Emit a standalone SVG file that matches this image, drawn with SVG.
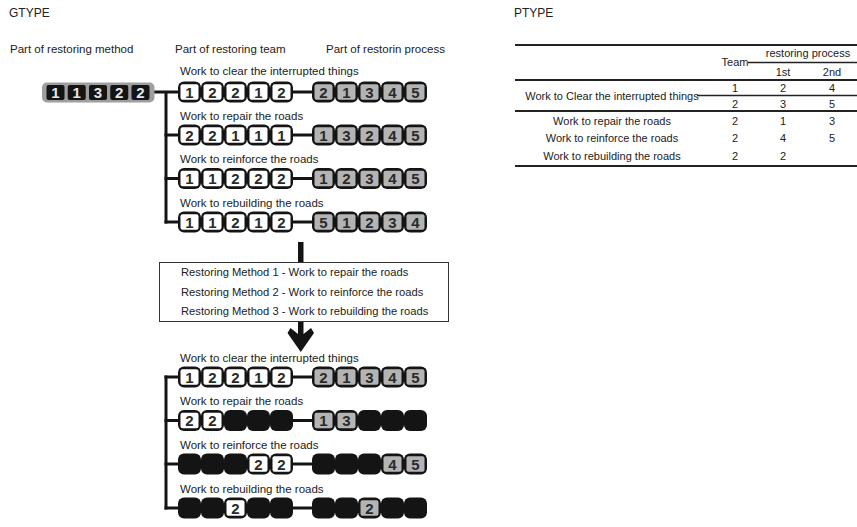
<svg xmlns="http://www.w3.org/2000/svg" xmlns:xlink="http://www.w3.org/1999/xlink" width="857" height="527" viewBox="0 0 857 527">
<style>
text{font-family:"Liberation Sans",Arial,sans-serif;fill:#222}
.h{font-size:12px}
.l{font-size:11.5px}
.m{font-size:11.2px}
.t{font-size:11px;text-anchor:middle}
.d{font-size:15px;font-weight:bold;text-anchor:middle;fill:#2a2a2a}
.dl{font-size:15px;font-weight:bold;text-anchor:middle;fill:#e6e6e6}
.blk{fill:#141414}
.ln{stroke:#141414;stroke-width:3;fill:none}
.tl{stroke:#222;fill:none}
</style>
<defs>
<g id="k"><rect x="0" y="-10.5" width="23" height="21" rx="6" class="blk"/></g>
<g id="w"><rect x="0" y="-10.5" width="23" height="21" rx="6" class="blk"/><rect x="2.5" y="-7.75" width="18" height="15.5" rx="2" fill="#fff"/></g>
<g id="g"><rect x="0" y="-10.5" width="23" height="21" rx="6" class="blk"/><rect x="2.5" y="-7.75" width="18" height="15.5" rx="2" fill="#b4b4b4"/></g>
</defs>
<rect width="857" height="527" fill="#fff"/>

<g id="headers">
<text class="h" x="9" y="17">GTYPE</text>
<text class="h" x="514" y="17">PTYPE</text>
<text class="l" x="10" y="53">Part of restoring method</text>
<text class="l" x="175" y="53">Part of restoring team</text>
<text class="l" x="326" y="53">Part of restorin process</text>
</g>

<g id="connectors">
<line class="ln" x1="154" y1="92" x2="178" y2="92"/>
<line class="ln" x1="166" y1="92" x2="166" y2="223.5"/>
<line class="ln" x1="164.5" y1="135" x2="178" y2="135"/>
<line class="ln" x1="164.5" y1="178.5" x2="178" y2="178.5"/>
<line class="ln" x1="164.5" y1="222" x2="178" y2="222"/>
<line class="ln" x1="293" y1="92" x2="312" y2="92"/>
<line class="ln" x1="293" y1="135" x2="312" y2="135"/>
<line class="ln" x1="293" y1="178.5" x2="312" y2="178.5"/>
<line class="ln" x1="293" y1="222" x2="312" y2="222"/>
<rect x="298" y="242" width="5.5" height="20" class="blk"/>
<polygon class="blk" points="298,322 303.5,322 303.5,334 311,328 314,333 300.75,352 287.5,333 290.5,328 298,334"/>
<line class="ln" x1="166" y1="375.5" x2="166" y2="509.5"/>
<line class="ln" x1="164.5" y1="377" x2="178" y2="377"/>
<line class="ln" x1="164.5" y1="420.5" x2="178" y2="420.5"/>
<line class="ln" x1="164.5" y1="464" x2="178" y2="464"/>
<line class="ln" x1="164.5" y1="508" x2="178" y2="508"/>
<line class="ln" x1="293" y1="377" x2="312" y2="377"/>
<line class="ln" x1="293" y1="420.5" x2="312" y2="420.5"/>
<line class="ln" x1="293" y1="464" x2="312" y2="464"/>
<line class="ln" x1="293" y1="508" x2="312" y2="508"/>
</g>

<g id="method-chromosome">
<rect x="42" y="82.5" width="112.5" height="20" rx="5" fill="#9e9e9e"/>
<rect x="46.5" y="85" width="18" height="15" rx="2" class="blk"/>
<rect x="67.75" y="85" width="18" height="15" rx="2" class="blk"/>
<rect x="89" y="85" width="18" height="15" rx="2" class="blk"/>
<rect x="110.25" y="85" width="18" height="15" rx="2" class="blk"/>
<rect x="131.5" y="85" width="18" height="15" rx="2" class="blk"/>
<text class="dl" x="55.5" y="98">1</text>
<text class="dl" x="76.75" y="98">1</text>
<text class="dl" x="98" y="98">3</text>
<text class="dl" x="119.25" y="98">2</text>
<text class="dl" x="140.5" y="98">2</text>
</g>

<g id="top-clear">
<text class="l" x="180" y="74.5">Work to clear the interrupted things</text>
<use href="#w" x="178" y="92"/><use href="#w" x="201" y="92"/><use href="#w" x="224" y="92"/><use href="#w" x="247" y="92"/><use href="#w" x="270" y="92"/>
<use href="#g" x="312" y="92"/><use href="#g" x="335" y="92"/><use href="#g" x="358" y="92"/><use href="#g" x="381" y="92"/><use href="#g" x="404" y="92"/>
<text class="d" x="189.5" y="97.5">1</text><text class="d" x="212.5" y="97.5">2</text><text class="d" x="235.5" y="97.5">2</text><text class="d" x="258.5" y="97.5">1</text><text class="d" x="281.5" y="97.5">2</text>
<text class="d" x="323.5" y="97.5">2</text><text class="d" x="346.5" y="97.5">1</text><text class="d" x="369.5" y="97.5">3</text><text class="d" x="392.5" y="97.5">4</text><text class="d" x="415.5" y="97.5">5</text>
</g>

<g id="top-repair">
<text class="l" x="180" y="119.5">Work to repair the roads</text>
<use href="#w" x="178" y="135"/><use href="#w" x="201" y="135"/><use href="#w" x="224" y="135"/><use href="#w" x="247" y="135"/><use href="#w" x="270" y="135"/>
<use href="#g" x="312" y="135"/><use href="#g" x="335" y="135"/><use href="#g" x="358" y="135"/><use href="#g" x="381" y="135"/><use href="#g" x="404" y="135"/>
<text class="d" x="189.5" y="140.5">2</text><text class="d" x="212.5" y="140.5">2</text><text class="d" x="235.5" y="140.5">1</text><text class="d" x="258.5" y="140.5">1</text><text class="d" x="281.5" y="140.5">1</text>
<text class="d" x="323.5" y="140.5">1</text><text class="d" x="346.5" y="140.5">3</text><text class="d" x="369.5" y="140.5">2</text><text class="d" x="392.5" y="140.5">4</text><text class="d" x="415.5" y="140.5">5</text>
</g>

<g id="top-reinforce">
<text class="l" x="180" y="163">Work to reinforce the roads</text>
<use href="#w" x="178" y="178.5"/><use href="#w" x="201" y="178.5"/><use href="#w" x="224" y="178.5"/><use href="#w" x="247" y="178.5"/><use href="#w" x="270" y="178.5"/>
<use href="#g" x="312" y="178.5"/><use href="#g" x="335" y="178.5"/><use href="#g" x="358" y="178.5"/><use href="#g" x="381" y="178.5"/><use href="#g" x="404" y="178.5"/>
<text class="d" x="189.5" y="184">1</text><text class="d" x="212.5" y="184">1</text><text class="d" x="235.5" y="184">2</text><text class="d" x="258.5" y="184">2</text><text class="d" x="281.5" y="184">2</text>
<text class="d" x="323.5" y="184">1</text><text class="d" x="346.5" y="184">2</text><text class="d" x="369.5" y="184">3</text><text class="d" x="392.5" y="184">4</text><text class="d" x="415.5" y="184">5</text>
</g>

<g id="top-rebuild">
<text class="l" x="180" y="206.5">Work to rebuilding the roads</text>
<use href="#w" x="178" y="222"/><use href="#w" x="201" y="222"/><use href="#w" x="224" y="222"/><use href="#w" x="247" y="222"/><use href="#w" x="270" y="222"/>
<use href="#g" x="312" y="222"/><use href="#g" x="335" y="222"/><use href="#g" x="358" y="222"/><use href="#g" x="381" y="222"/><use href="#g" x="404" y="222"/>
<text class="d" x="189.5" y="227.5">1</text><text class="d" x="212.5" y="227.5">1</text><text class="d" x="235.5" y="227.5">2</text><text class="d" x="258.5" y="227.5">1</text><text class="d" x="281.5" y="227.5">2</text>
<text class="d" x="323.5" y="227.5">5</text><text class="d" x="346.5" y="227.5">1</text><text class="d" x="369.5" y="227.5">2</text><text class="d" x="392.5" y="227.5">3</text><text class="d" x="415.5" y="227.5">4</text>
</g>

<g id="method-box">
<rect x="159.5" y="262.5" width="289" height="59" fill="#fff" stroke="#333" stroke-width="1"/>
<text class="m" x="181" y="276">Restoring Method 1 - Work to repair the roads</text>
<text class="m" x="181" y="295.5">Restoring Method 2 - Work to reinforce the roads</text>
<text class="m" x="181" y="315">Restoring Method 3 - Work to rebuilding the roads</text>
</g>

<g id="bottom-clear">
<text class="l" x="180" y="361.5">Work to clear the interrupted things</text>
<use href="#w" x="178" y="377"/><use href="#w" x="201" y="377"/><use href="#w" x="224" y="377"/><use href="#w" x="247" y="377"/><use href="#w" x="270" y="377"/>
<use href="#g" x="312" y="377"/><use href="#g" x="335" y="377"/><use href="#g" x="358" y="377"/><use href="#g" x="381" y="377"/><use href="#g" x="404" y="377"/>
<text class="d" x="189.5" y="382.5">1</text><text class="d" x="212.5" y="382.5">2</text><text class="d" x="235.5" y="382.5">2</text><text class="d" x="258.5" y="382.5">1</text><text class="d" x="281.5" y="382.5">2</text>
<text class="d" x="323.5" y="382.5">2</text><text class="d" x="346.5" y="382.5">1</text><text class="d" x="369.5" y="382.5">3</text><text class="d" x="392.5" y="382.5">4</text><text class="d" x="415.5" y="382.5">5</text>
</g>

<g id="bottom-repair">
<text class="l" x="180" y="405">Work to repair the roads</text>
<use href="#w" x="178" y="420.5"/><use href="#w" x="201" y="420.5"/><use href="#k" x="224" y="420.5"/><use href="#k" x="247" y="420.5"/><use href="#k" x="270" y="420.5"/>
<use href="#g" x="312" y="420.5"/><use href="#g" x="335" y="420.5"/><use href="#k" x="358" y="420.5"/><use href="#k" x="381" y="420.5"/><use href="#k" x="404" y="420.5"/>
<text class="d" x="189.5" y="426">2</text><text class="d" x="212.5" y="426">2</text>
<text class="d" x="323.5" y="426">1</text><text class="d" x="346.5" y="426">3</text>
</g>

<g id="bottom-reinforce">
<text class="l" x="180" y="448.5">Work to reinforce the roads</text>
<use href="#k" x="178" y="464"/><use href="#k" x="201" y="464"/><use href="#k" x="224" y="464"/><use href="#w" x="247" y="464"/><use href="#w" x="270" y="464"/>
<use href="#k" x="312" y="464"/><use href="#k" x="335" y="464"/><use href="#k" x="358" y="464"/><use href="#g" x="381" y="464"/><use href="#g" x="404" y="464"/>
<text class="d" x="258.5" y="469.5">2</text><text class="d" x="281.5" y="469.5">2</text>
<text class="d" x="392.5" y="469.5">4</text><text class="d" x="415.5" y="469.5">5</text>
</g>

<g id="bottom-rebuild">
<text class="l" x="180" y="492.5">Work to rebuilding the roads</text>
<use href="#k" x="178" y="508"/><use href="#k" x="201" y="508"/><use href="#w" x="224" y="508"/><use href="#k" x="247" y="508"/><use href="#k" x="270" y="508"/>
<use href="#k" x="312" y="508"/><use href="#k" x="335" y="508"/><use href="#g" x="358" y="508"/><use href="#k" x="381" y="508"/><use href="#k" x="404" y="508"/>
<text class="d" x="235.5" y="513.5">2</text>
<text class="d" x="369.5" y="513.5">2</text>
</g>

<g id="ptype-table">
<line class="tl" x1="515" y1="45" x2="857" y2="45" stroke-width="2"/>
<line class="tl" x1="748" y1="62.5" x2="857" y2="62.5" stroke-width="1.5"/>
<line class="tl" x1="515" y1="80" x2="857" y2="80" stroke-width="2"/>
<line class="tl" x1="697" y1="95.5" x2="857" y2="95.5" stroke-width="1.5"/>
<line class="tl" x1="515" y1="111" x2="857" y2="111" stroke-width="2"/>
<line class="tl" x1="515" y1="166" x2="857" y2="166" stroke-width="2"/>
<text class="t" x="808" y="57">restoring process</text>
<text class="t" x="735" y="65.5">Team</text>
<text class="t" x="783" y="75.5">1st</text>
<text class="t" x="832" y="75.5">2nd</text>
<text class="t" x="612" y="99.5">Work to Clear the interrupted things</text>
<text class="t" x="735" y="92">1</text><text class="t" x="783" y="92">2</text><text class="t" x="832" y="92">4</text>
<text class="t" x="735" y="107.5">2</text><text class="t" x="783" y="107.5">3</text><text class="t" x="832" y="107.5">5</text>
<text class="t" x="612" y="124.5">Work to repair the roads</text>
<text class="t" x="735" y="124.5">2</text><text class="t" x="783" y="124.5">1</text><text class="t" x="832" y="124.5">3</text>
<text class="t" x="612" y="142">Work to reinforce the roads</text>
<text class="t" x="735" y="142">2</text><text class="t" x="783" y="142">4</text><text class="t" x="832" y="142">5</text>
<text class="t" x="612" y="159.5">Work to rebuilding the roads</text>
<text class="t" x="735" y="159.5">2</text><text class="t" x="783" y="159.5">2</text>
</g>
</svg>
